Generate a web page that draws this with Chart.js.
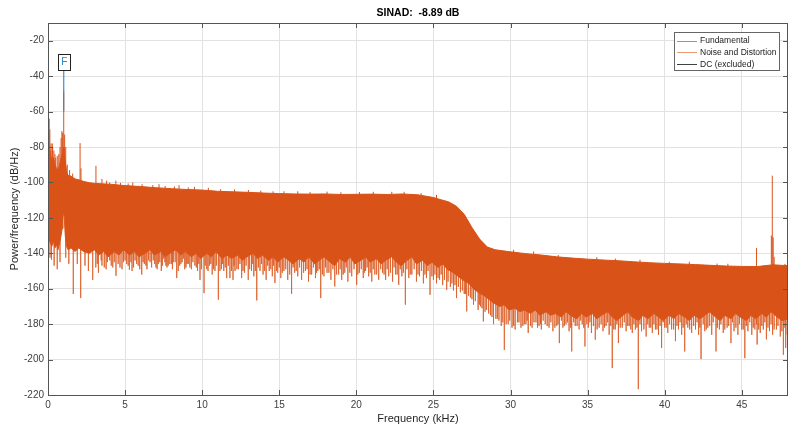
<!DOCTYPE html>
<html>
<head>
<meta charset="utf-8">
<script src="https://cdn.jsdelivr.net/npm/chart.js@4.4.1/dist/chart.umd.min.js"></script>
<style>
html, body { margin: 0; padding: 0; background: #ffffff; }
canvas { display: block; }
</style>
</head>
<body>
<canvas id="psd" width="791" height="430"></canvas>
<script>
// ---- Spectrum data (frequency in kHz, level in dB/Hz) ----
const sinadDb = -8.89;

// Upper edge of the noise band
const topKHz = [0, 0.05, 0.15, 0.25, 0.35, 0.45, 0.55, 0.65, 0.75, 0.85, 0.92, 0.97, 1.02, 1.07, 1.12, 1.2, 1.3, 1.5, 1.75, 2.0,
  2.3, 2.7, 3.0, 3.5, 4, 5, 6, 7, 8, 9, 10, 11, 12, 13, 14, 15, 16, 17, 18, 19, 20, 21, 22, 23, 24, 25, 25.5, 26, 26.5, 27,
  27.5, 28, 28.5, 29, 29.5, 30, 31, 32, 33, 34, 35, 36, 37, 38, 39, 40, 41, 42, 43, 44, 45, 46, 47, 48];
const topDb = [-72, -76, -84, -88, -86, -90, -92, -93, -90, -86, -84, -82, -80, -84, -88, -94, -96, -96.5, -98, -98.5,
  -99.4, -100.2, -100.5, -100.8, -101, -101.8, -102.3, -103, -103.5, -104, -104.3, -105, -105.3, -105.6, -106, -106.3, -106.5, -106.6, -106.5, -106.8,
  -106.7, -106.6, -106.8, -106.5, -107, -108.5, -109.8, -111, -113.5, -118, -125.5, -132, -136.5, -138, -138.6, -139.2, -140.2, -141, -142, -142.7,
  -143.3, -143.8, -144.2, -144.8, -145.3, -145.7, -146, -146.4, -146.8, -147.2, -147.4, -147.5, -146.5, -147];

// Lower edge of the dense part of the noise band
const floorKHz = [0, 0.05, 0.15, 0.25, 0.35, 0.45, 0.55, 0.65, 0.75, 0.85, 0.92, 0.97, 1.02, 1.07, 1.12, 1.2, 1.3, 1.5, 1.75, 2.0,
  2.3, 2.7, 3.0, 3.3, 3.6, 3.9, 4.3, 4.6, 4.9, 5.3, 5.6, 5.9, 6.3, 6.6, 6.9, 7.3, 7.6, 7.9, 8.3, 8.6,
  8.9, 9.3, 9.6, 9.9, 10.3, 10.6, 10.9, 11.3, 11.6, 11.9, 12.3, 12.6, 12.9, 13.3, 13.6, 13.9, 14.3, 14.6, 14.9, 15.3,
  15.6, 15.9, 16.3, 16.6, 16.9, 17.3, 17.6, 17.9, 18.3, 18.6, 18.9, 19.3, 19.6, 19.9, 20.3, 20.6, 20.9, 21.3, 21.6, 21.9,
  22.3, 22.6, 22.9, 23.3, 23.6, 23.9, 24.3, 24.6, 24.9, 25.3, 25.6, 25.9, 26.3, 26.6, 26.9, 27.3, 27.6, 27.9, 28.3, 28.6,
  28.9, 29.3, 29.6, 29.9, 30.3, 30.6, 30.9, 31.3, 31.6, 31.9, 32.3, 32.6, 32.9, 33.3, 33.6, 33.9, 34.3, 34.6, 34.9, 35.3,
  35.6, 35.9, 36.3, 36.6, 36.9, 37.3, 37.6, 37.9, 38.3, 38.6, 38.9, 39.3, 39.6, 39.9, 40.3, 40.6, 40.9, 41.3, 41.6, 41.9,
  42.3, 42.6, 42.9, 43.3, 43.6, 43.9, 44.3, 44.6, 44.9, 45.3, 45.6, 45.9, 46.3, 46.6, 46.9, 47.3, 47.6, 48];
const floorDb = [-128, -132, -134, -136, -133, -137, -135, -138, -134, -130, -126, -120, -116, -122, -130, -136, -138, -137, -139, -137,
  -139, -140, -138, -141, -139, -142, -139, -141, -138, -141, -139, -142, -140, -138, -141, -139, -142, -140, -138, -141,
  -139, -142, -140, -143, -140, -142, -139, -143, -141, -143, -141, -144, -142, -140, -143, -141, -144, -142, -145, -142,
  -144, -146, -143, -145, -142, -146, -144, -142, -145, -147, -143, -145, -142, -146, -144, -142, -145, -143, -146, -144,
  -142, -145, -147, -144, -142, -146, -144, -147, -145, -148, -146, -149, -151, -153, -155, -157, -160, -162, -164, -166,
  -168, -170, -169, -172, -171, -173, -172, -174, -172, -175, -173, -175, -174, -176, -173, -175, -177, -174, -176, -174,
  -177, -175, -173, -176, -178, -175, -173, -176, -178, -175, -177, -174, -176, -178, -175, -177, -174, -176, -178, -175,
  -177, -175, -173, -176, -178, -175, -177, -174, -176, -178, -175, -177, -174, -176, -173, -176, -178, -177];

// Narrow lines rising above the band (harmonics, spurs, leakage around the tone)
const peakKHz = [0.03, 0.08, 0.12, 0.18, 0.2, 0.28, 0.3, 0.38, 0.45, 0.5, 0.6, 0.7, 0.78, 0.85, 0.9, 0.95, 1.02, 1.08, 1.15, 1.25,
  1.4, 1.6, 2.08, 2.14, 3.11, 3.5, 3.8, 4.0, 4.4, 4.7, 5.2, 5.5, 6.1, 6.8, 7.2, 7.6, 8.2, 8.5, 9.1, 9.5,
  10.4, 11.2, 12.1, 13.0, 13.8, 14.6, 15.3, 16.2, 17.0, 18.1, 19.0, 20.2, 21.1, 22.3, 23.1, 24.2, 25.2, 30.2, 31.5, 33.1,
  35.6, 36.8, 38.4, 40.3, 41.6, 43.4, 44.1, 45.96, 46.92, 46.98, 47.04, 47.1, 47.8];
const peakDb = [-60, -64, -70, -82, -78, -78, -80, -82, -84, -86, -85, -84, -80, -75, -71, -72, -48.6, -73, -80, -90,
  -93, -95, -77.8, -92, -90.6, -98, -99, -100, -99, -100.2, -100.6, -100, -101, -101.5, -101, -102, -102.3, -101.5, -102.8, -102.5,
  -103, -103.8, -104, -104.3, -104.6, -105, -105, -105, -105.4, -105.2, -105.5, -105.4, -105.3, -105.3, -105.3, -106, -107, -138, -139, -141,
  -142.2, -143, -143.6, -144.8, -144.8, -145.8, -145.9, -137, -130, -96.2, -131, -142, -146];

// Deep notches falling below the band
const dipKHz = [0.13, 0.23, 0.4, 0.6, 0.78, 1.15, 1.35, 1.64, 1.9, 2.12, 2.4, 2.62, 2.9, 3.1, 3.27, 3.5, 3.77, 4.0, 4.2, 4.41,
  4.67, 4.9, 5.1, 5.28, 5.45, 5.65, 5.85, 6.08, 6.25, 6.42, 6.62, 6.83, 7.0, 7.16, 7.35, 7.5, 7.65, 7.8, 8.0, 8.13,
  8.35, 8.45, 8.62, 8.78, 8.95, 9.1, 9.3, 9.53, 9.7, 9.86, 10.12, 10.3, 10.47, 10.65, 10.83, 11.05, 11.25, 11.4, 11.59, 11.8,
  12.0, 12.13, 12.35, 12.56, 12.75, 12.99, 13.2, 13.35, 13.54, 13.75, 13.95, 14.15, 14.35, 14.55, 14.72, 14.9, 15.1, 15.3, 15.55, 15.8,
  16.0, 16.2, 16.45, 16.7, 16.9, 17.1, 17.35, 17.5, 17.69, 17.9, 18.1, 18.35, 18.6, 18.85, 19.05, 19.25, 19.45, 19.7, 20.02, 20.2,
  20.45, 20.6, 20.8, 21.0, 21.2, 21.45, 21.7, 21.9, 22.1, 22.35, 22.55, 22.75, 22.95, 23.18, 23.4, 23.6, 23.9, 24.1, 24.35, 24.55,
  24.78, 25.0, 25.2, 25.4, 25.6, 25.86, 26.1, 26.3, 26.5, 26.75, 27.0, 27.16, 27.4, 27.6, 27.9, 28.05, 28.24, 28.45, 28.7, 28.9,
  29.15, 29.4, 29.6, 29.85, 30.1, 30.3, 30.55, 30.8, 31.0, 31.15, 31.4, 31.65, 31.85, 32.0, 32.25, 32.5, 32.75, 33.0, 33.17, 33.4,
  33.6, 33.8, 33.97, 34.2, 34.45, 34.65, 34.83, 35.05, 35.25, 35.5, 35.75, 36.0, 36.2, 36.4, 36.6, 36.8, 37.0, 37.25, 37.5, 37.7,
  37.9, 38.1, 38.29, 38.5, 38.8, 39.0, 39.2, 39.4, 39.6, 39.8, 40.0, 40.2, 40.45, 40.7, 40.9, 41.1, 41.3, 41.5, 41.75, 42.0,
  42.2, 42.36, 42.6, 42.8, 43.05, 43.33, 43.55, 43.8, 44.05, 44.3, 44.5, 44.75, 45.0, 45.2, 45.4, 45.65, 45.85, 46.0, 46.2, 46.4,
  46.6, 46.8, 47.0, 47.25, 47.5, 47.7, 47.85, 47.95];
const dipDb = [-142.5, -143.6, -147, -149, -145, -142.5, -146, -163, -146, -165.3, -147, -150, -155, -148, -151, -147, -149, -144, -148, -152.7,
  -148, -145, -146, -149.3, -150, -144, -147, -152, -146, -149, -145, -144, -148, -146, -150, -143, -147, -147, -146, -145,
  -154, -150, -146, -143, -148, -146, -149, -147, -150, -155, -162.5, -149, -147, -152, -150, -166.2, -149, -150, -154, -154,
  -155, -150, -149, -154, -151, -155, -150, -153, -166.6, -150, -152, -155, -150, -153, -156.8, -151, -154, -150, -155, -162.9,
  -151, -153, -155, -150, -156, -152, -154, -150, -165.3, -153, -151, -155, -158.7, -152, -155, -151, -156, -153, -157.8, -151,
  -154, -150, -153, -156, -152, -155, -151, -155, -153, -156, -152, -157.8, -153, -169, -154, -152, -156, -153, -157, -154,
  -163.4, -155, -157, -155, -158, -160.6, -159, -161, -165.3, -162, -163, -172.8, -165, -169, -172, -170, -178.5, -172, -175, -180,
  -177, -181, -194.5, -180, -182, -183, -179, -181, -180, -185, -182, -179, -181, -183, -180, -182, -184, -181, -190.7, -182,
  -180, -184, -195.4, -181, -183, -180, -192.6, -182, -185, -188.8, -182, -184, -181, -186, -204.8, -183, -190.7, -182, -184, -181,
  -185, -183, -216.7, -184, -187, -182, -185, -183, -186, -193.5, -182, -185, -183, -189.6, -183, -186, -195.4, -182, -185, -183,
  -186, -199.7, -184, -182, -186, -195.4, -183, -185, -182, -190.7, -184, -186, -183, -199.2, -184, -186, -183, -191.5, -185, -183,
  -188.6, -184, -186, -183, -187, -197.3, -193.5, -186];

// Shallow notches that roughen the lower edge of the band
const shallowKHz = [3.2, 3.45, 3.65, 3.85, 4.1, 4.3, 4.55, 4.8, 5.0, 5.2, 5.38, 5.55, 5.75, 5.95, 6.17, 6.35, 6.52, 6.72, 6.92, 7.08,
  7.25, 7.42, 7.58, 7.72, 7.9, 8.07, 8.25, 8.54, 8.7, 8.87, 9.02, 9.2, 9.4, 9.62, 9.78, 9.95, 10.2, 10.38, 10.56, 10.74,
  10.92, 11.15, 11.32, 11.5, 11.7, 11.9, 12.07, 12.25, 12.45, 12.65, 12.85, 13.08, 13.28, 13.45, 13.65, 13.85, 14.05, 14.25, 14.45, 14.63,
  14.82, 15.0, 15.2, 15.42, 15.68, 15.9, 16.1, 16.32, 16.58, 16.8, 17.0, 17.22, 17.42, 17.6, 17.8, 18.0, 18.22, 18.48, 18.72, 18.95,
  19.15, 19.35, 19.58, 19.85, 20.1, 20.32, 20.52, 20.7, 20.9, 21.1, 21.32, 21.58, 21.8, 22.0, 22.22, 22.45, 22.65, 22.85, 23.05, 23.28,
  23.5, 23.75, 24.0, 24.22, 24.45, 24.65, 24.9, 25.1, 25.3, 25.5, 25.72, 25.95, 26.2, 26.4, 26.62, 26.88, 27.08, 27.28, 27.5, 27.72,
  27.98, 28.15, 28.35, 28.58, 28.8, 29.05, 29.25, 29.5, 29.72, 29.95, 30.2, 30.45, 30.68, 30.9, 31.08, 31.3, 31.52, 31.75, 31.95, 32.12,
  32.38, 32.62, 32.88, 33.08, 33.3, 33.5, 33.7, 33.9, 34.1, 34.32, 34.55, 34.75, 34.95, 35.15, 35.38, 35.62, 35.88, 36.1, 36.3, 36.5,
  36.7, 36.9, 37.12, 37.38, 37.6, 37.8, 38.0, 38.2, 38.4, 38.65, 38.9, 39.1, 39.3, 39.5, 39.7, 39.9, 40.1, 40.32, 40.58, 40.8,
  41.0, 41.2, 41.4, 41.62, 41.88, 42.1, 42.28, 42.5, 42.7, 42.92, 43.15, 43.42, 43.65, 43.9, 44.15, 44.4, 44.62, 44.85, 45.1, 45.3,
  45.52, 45.75, 45.95, 46.1, 46.3, 46.5, 46.7, 46.9, 47.1, 47.35, 47.6, 47.8];
const shallowDb = [-146, -144, -148, -145, -147, -145, -146, -149, -144, -147, -145, -148, -146, -149, -145, -147, -144, -148, -146, -149,
  -145, -147, -145, -148, -146, -149, -145, -147, -145, -149, -146, -148, -145, -148, -146, -149, -147, -150, -146, -149,
  -147, -150, -146, -148, -147, -150, -147, -149, -146, -150, -147, -149, -146, -150, -148, -146, -150, -147, -149, -147,
  -150, -148, -151, -149, -152, -148, -150, -148, -151, -149, -152, -148, -151, -149, -152, -148, -151, -149, -152, -149,
  -152, -148, -151, -149, -152, -149, -151, -148, -151, -149, -152, -149, -152, -149, -151, -148, -152, -149, -151, -149,
  -152, -149, -152, -150, -152, -150, -153, -152, -154, -152, -155, -156, -157, -158, -159, -161, -163, -164, -166, -167,
  -169, -171, -173, -174, -176, -177, -178, -179, -180, -178, -181, -179, -182, -180, -178, -181, -179, -182, -180, -178,
  -181, -179, -182, -180, -178, -181, -179, -182, -179, -181, -178, -182, -180, -179, -181, -183, -180, -182, -179, -181,
  -183, -180, -182, -179, -181, -183, -180, -182, -180, -183, -180, -182, -180, -183, -181, -179, -182, -180, -183, -181,
  -179, -182, -180, -183, -181, -179, -182, -180, -183, -181, -179, -182, -180, -183, -181, -179, -182, -180, -183, -181,
  -179, -182, -180, -183, -181, -179, -182, -180, -183, -181, -184, -182];

// Fundamental tone and the excluded DC bin
const fundKHz = [1.02];
const fundDb = [-37];
const dcKHz = [0];
const dcDb = [-66];

// ---- Helpers to build vertical line segments ----
function nearestOf(xs, ys, f) {
  let best = 0;
  for (let i = 1; i < xs.length; i++) {
    if (Math.abs(xs[i] - f) < Math.abs(xs[best] - f)) best = i;
  }
  return ys[best];
}
// Each segment runs from a level inside the band out to its tip; a null point breaks the line.
function segments(xs, tips, baseOf) {
  const out = [];
  xs.forEach((f, i) => {
    out.push({ x: f, y: baseOf(f) });
    out.push({ x: f, y: tips[i] });
    out.push({ x: f, y: null });
  });
  return out;
}
const pairs = (xs, ys) => xs.map((x, i) => ({ x: x, y: ys[i] }));
const insideFromTop = f => nearestOf(topKHz, topDb, f) - 3;
const insideFromFloor = f => nearestOf(floorKHz, floorDb, f) + 3;

const ORANGE = '#D95319';
const FONT = "'Liberation Sans', Arial, Helvetica, sans-serif";

// ---- Plugins: title, axes box with inward ticks, fundamental marker, key ----
const decorations = {
  id: 'decorations',
  afterDatasetsDraw(chart) {
    const { ctx, chartArea: a, scales } = chart;
    const xs = scales.x, ys = scales.y;
    ctx.save();
    // box
    ctx.strokeStyle = '#555555';
    ctx.lineWidth = 1;
    ctx.strokeRect(Math.round(a.left) + 0.5, Math.round(a.top) + 0.5,
      Math.round(a.right - a.left) - 1, Math.round(a.bottom - a.top));
    // inward tick marks on all four sides
    const tl = 5;
    ctx.beginPath();
    xs.ticks.forEach(t => {
      const px = Math.round(xs.getPixelForValue(t.value)) + 0.5;
      ctx.moveTo(px, a.bottom); ctx.lineTo(px, a.bottom - tl);
      ctx.moveTo(px, a.top); ctx.lineTo(px, a.top + tl);
    });
    ys.ticks.forEach(t => {
      const py = Math.round(ys.getPixelForValue(t.value)) + 0.5;
      ctx.moveTo(a.left, py); ctx.lineTo(a.left + tl, py);
      ctx.moveTo(a.right, py); ctx.lineTo(a.right - tl, py);
    });
    ctx.stroke();

    // marker above the fundamental
    const fx = xs.getPixelForValue(fundKHz[0]);
    const fy = ys.getPixelForValue(fundDb[0]);
    ctx.fillStyle = '#ffffff';
    ctx.fillRect(fx - 6, fy - 17, 12, 16);
    ctx.strokeStyle = '#222222';
    ctx.strokeRect(Math.round(fx - 6) + 0.5, Math.round(fy - 17) + 0.5, 12, 16);
    ctx.fillStyle = '#2a88cc';
    ctx.font = '10px ' + FONT;
    ctx.textAlign = 'center';
    ctx.textBaseline = 'middle';
    ctx.fillText('F', fx + 0.5, fy - 8.5);

    // key
    const items = chart.data.datasets.filter(d => d.keyRank).sort((p, q) => p.keyRank - q.keyRank);
    const kw = 105, kh = 38;
    const kx = a.right - 9 - kw, ky = a.top + 9;
    ctx.fillStyle = '#ffffff';
    ctx.fillRect(kx, ky, kw, kh);
    ctx.strokeStyle = '#666666';
    ctx.strokeRect(Math.round(kx) + 0.5, Math.round(ky) + 0.5, kw, kh);
    ctx.font = '8.5px ' + FONT;
    ctx.textAlign = 'left';
    items.forEach((d, i) => {
      const cy = ky + 8.5 + i * 11.6;
      ctx.strokeStyle = d.keyColor;
      ctx.lineWidth = 1;
      ctx.beginPath();
      ctx.moveTo(kx + 3, Math.round(cy) + 0.5);
      ctx.lineTo(kx + 23, Math.round(cy) + 0.5);
      ctx.stroke();
      ctx.fillStyle = '#1a1a1a';
      ctx.fillText(d.label, kx + 26, cy + 0.5);
    });
    ctx.restore();
  },
  afterDraw(chart) {
    const { ctx, chartArea: a } = chart;
    ctx.save();
    ctx.font = 'bold 10.5px ' + FONT;
    ctx.fillStyle = '#000000';
    ctx.textAlign = 'center';
    ctx.textBaseline = 'middle';
    ctx.fillText('SINAD:  ' + sinadDb.toFixed(2) + ' dB', (a.left + a.right) / 2, 13);
    ctx.restore();
  }
};

const lineBase = { pointRadius: 0, pointHoverRadius: 0, tension: 0, spanGaps: false };

// Drawing order: higher `order` is painted first; the solid band goes over the notch and spur lines.
new Chart(document.getElementById('psd'), {
  type: 'line',
  data: {
    datasets: [
      Object.assign({}, lineBase, {
        label: 'DC (excluded)', keyRank: 3, keyColor: '#404040',
        data: segments(dcKHz, dcDb, insideFromFloor),
        borderColor: '#333333', borderWidth: 1, fill: false, order: 0
      }),
      Object.assign({}, lineBase, {
        label: 'Fundamental', keyRank: 1, keyColor: '#5fa3d9',
        data: segments(fundKHz, fundDb, () => -60),
        borderColor: '#3a8fd0', borderWidth: 1.2, fill: false, order: 6
      }),
      Object.assign({}, lineBase, {
        label: 'Dips',
        data: segments(dipKHz.concat(shallowKHz), dipDb.concat(shallowDb), insideFromTop),
        borderColor: 'rgba(217,83,25,0.55)', borderWidth: 1, fill: false, order: 5
      }),
      Object.assign({}, lineBase, {
        label: 'Peaks',
        data: segments(peakKHz, peakDb, insideFromFloor),
        borderColor: ORANGE, borderWidth: 1, fill: false, order: 4
      }),
      Object.assign({}, lineBase, {
        label: 'Noise and Distortion', keyRank: 2, keyColor: '#eb9a78',
        data: pairs(topKHz, topDb),
        borderColor: ORANGE, backgroundColor: ORANGE, borderWidth: 1, fill: false, order: 3
      }),
      Object.assign({}, lineBase, {
        label: 'Noise floor',
        data: pairs(floorKHz, floorDb),
        borderColor: ORANGE, backgroundColor: ORANGE, borderWidth: 1, fill: '-1', order: 2
      })
    ]
  },
  options: {
    responsive: false,
    animation: false,
    devicePixelRatio: 1,
    events: [],
    layout: { padding: { top: 23, right: 3, bottom: 0, left: 0 } },
    plugins: {
      legend: { display: false },
      tooltip: { enabled: false },
      title: { display: false }
    },
    scales: {
      x: {
        type: 'linear', min: 0, max: 48,
        afterFit: s => { s.height = 35; },
        ticks: { stepSize: 5, includeBounds: false, padding: 4, color: '#404040', font: { family: FONT, size: 10 } },
        grid: { color: '#e2e2e2', lineWidth: 1, drawTicks: false },
        border: { display: false },
        title: { display: true, text: 'Frequency (kHz)', color: '#262626', font: { family: FONT, size: 11 }, padding: { top: 0, bottom: 4 } }
      },
      y: {
        type: 'linear', min: -220, max: -10,
        afterFit: s => { s.width = 48; },
        ticks: { stepSize: 20, includeBounds: false, padding: 4, color: '#404040', font: { family: FONT, size: 10 } },
        grid: { color: '#e2e2e2', lineWidth: 1, drawTicks: false },
        border: { display: false },
        title: { display: true, text: 'Power/frequency (dB/Hz)', color: '#262626', font: { family: FONT, size: 11 }, padding: { top: 8, bottom: 0 } }
      }
    }
  },
  plugins: [decorations]
});
</script>
</body>
</html>
